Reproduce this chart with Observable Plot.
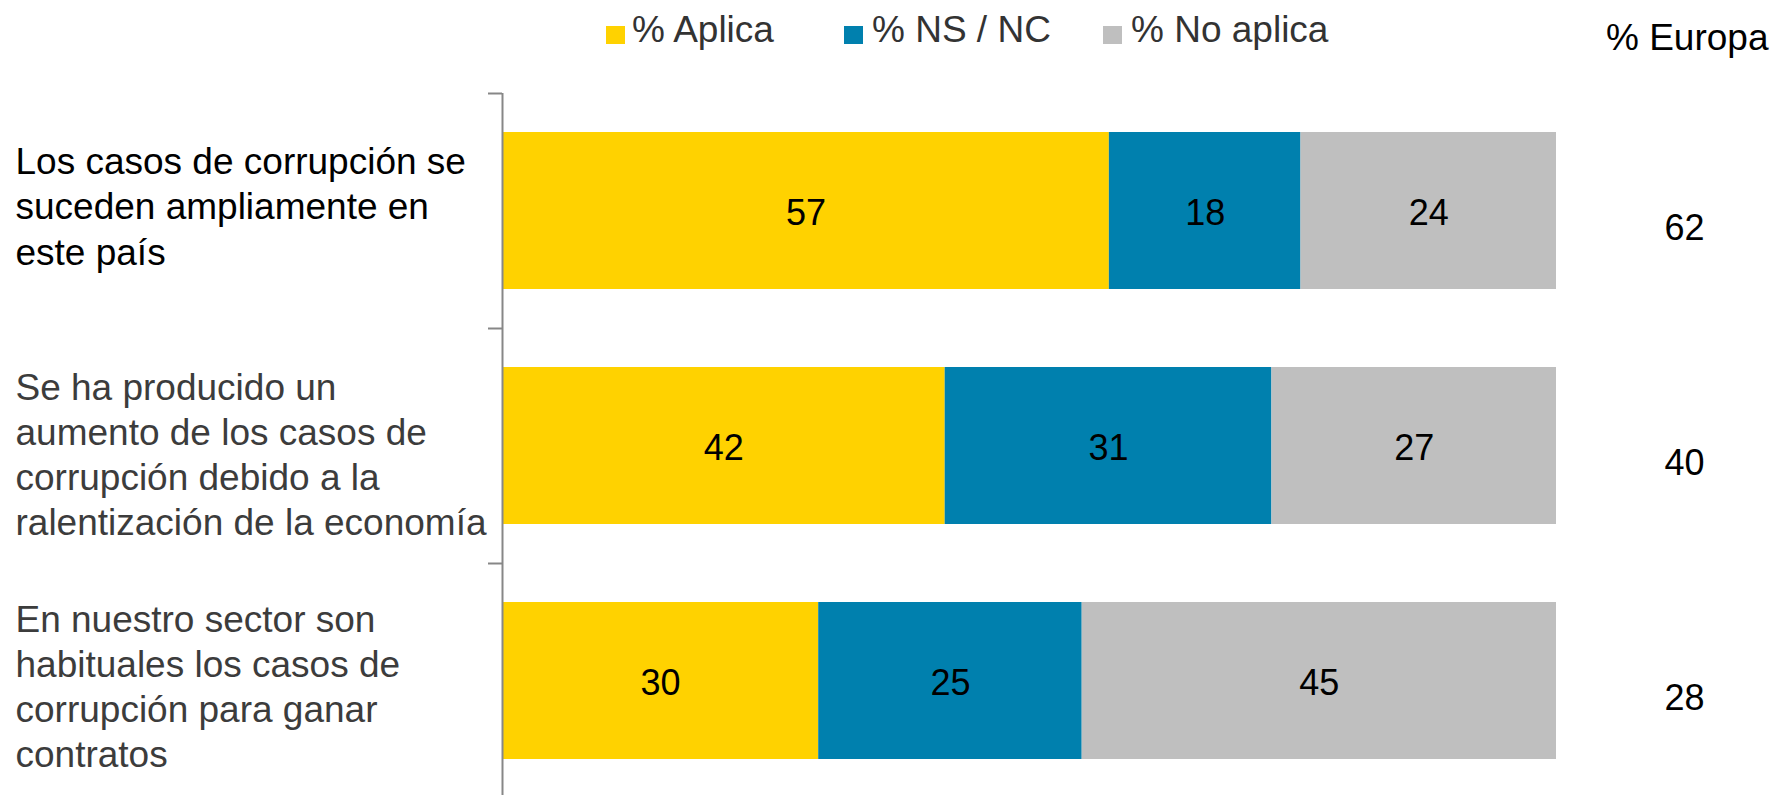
<!DOCTYPE html>
<html>
<head>
<meta charset="utf-8">
<script src="https://cdn.jsdelivr.net/npm/d3@7"></script>
<script src="https://cdn.jsdelivr.net/npm/@observablehq/plot@0.6"></script>
<style>
  html, body { margin: 0; padding: 0; background: #fff; }
  #wrap { position: relative; width: 1773px; height: 795px; font-family: "Liberation Sans", Arial, sans-serif; }
  #chart { position: absolute; left: 0; top: 0; }
  .sw { position: absolute; width: 19px; height: 18px; top: 26px; }
  .lt { position: absolute; font-size: 37px; line-height: 37px; color: #333; white-space: nowrap; top: 11px; }
  .hd { position: absolute; font-size: 37px; line-height: 37px; color: #000; white-space: nowrap; top: 19px; }
</style>
</head>
<body>
<div id="wrap">
  <div id="chart"></div>
  <div id="legend"></div>
</div>
<script>
// ---- data ----
const questions = [
  "Los casos de corrupción se\nsuceden ampliamente en\neste país",
  "Se ha producido un\naumento de los casos de\ncorrupción debido a la\nralentización de la economía",
  "En nuestro sector son\nhabituales los casos de\ncorrupción para ganar\ncontratos"
];
const series = ["% Aplica", "% NS / NC", "% No aplica"];
const aplica = [57, 42, 30];
const nsnc = [18, 31, 25];
const noAplica = [24, 27, 45];
const europa = [62, 40, 28];
const europaHeader = "% Europa";
const colors = ["#FFD200", "#0080AE", "#BFBFBF"];
const labelColors = ["#000000", "#3c3c3c", "#3c3c3c"];
const labelShift = [-6, 7, 4];

// ---- table ----
const seriesValues = [aplica, nsnc, noAplica];
const rows = [];
questions.forEach((q, i) => {
  series.forEach((s, j) => rows.push({q, s, value: seriesValues[j][i]}));
});

const font = "Liberation Sans, Arial, sans-serif";

const labelMarks = questions.map((q, i) =>
  Plot.text([q], {y: d => d, text: d => d, frameAnchor: "left", textAnchor: "start", dx: -487, dy: labelShift[i], lineHeight: 1.22, fontSize: 37, fill: labelColors[i]})
);

const chart = Plot.plot({
  width: 1773,
  height: 795,
  marginLeft: 502,
  marginRight: 217,
  marginTop: 93,
  marginBottom: 0,
  style: {fontFamily: font, fontSize: "36px", background: "white", overflow: "visible"},
  x: {domain: [0, 1], axis: null},
  y: {domain: questions, range: [93, 798], paddingInner: 0.332, paddingOuter: 0.166},
  color: {domain: series, range: colors},
  marks: [
    Plot.barX(rows, Plot.stackX({x: "value", y: "q", z: "s", fill: "s", offset: "normalize"})),
    Plot.text(rows, Plot.stackX({x: "value", y: "q", z: "s", text: d => String(d.value), offset: "normalize", fill: "black", fontSize: 36, dy: 2})),
    Plot.ruleX([0], {stroke: "#878787", strokeWidth: 2}),
    Plot.axisY({tickSize: 14, tickFormat: () => "", label: null, stroke: "#878787", strokeWidth: 2, dy: -117.5}),
    ...labelMarks,
    Plot.text(europa, {y: (d, i) => questions[i], text: d => String(d), frameAnchor: "right", textAnchor: "middle", dx: 128, dy: 17, fontSize: 36, fill: "black"})
  ]
});
document.getElementById("chart").appendChild(chart);

// ---- legend (HTML, above the bars) ----
const legend = document.getElementById("legend");
const swX = [606, 844, 1103];
const txX = [632, 872, 1131];
series.forEach((s, i) => {
  const sw = document.createElement("div");
  sw.className = "sw";
  sw.style.left = swX[i] + "px";
  sw.style.background = colors[i];
  legend.appendChild(sw);
  const t = document.createElement("div");
  t.className = "lt";
  t.style.left = txX[i] + "px";
  t.textContent = s;
  legend.appendChild(t);
});
const hd = document.createElement("div");
hd.className = "hd";
hd.style.left = "1606px";
hd.textContent = europaHeader;
legend.appendChild(hd);
</script>
</body>
</html>
